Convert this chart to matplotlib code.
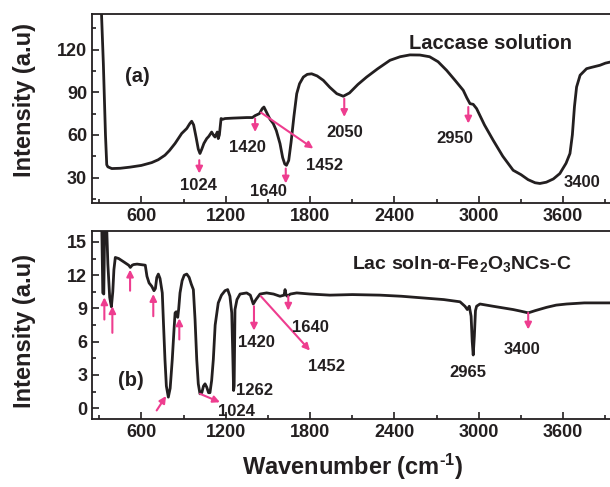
import numpy as np
import matplotlib
matplotlib.use("Agg")
import matplotlib.pyplot as plt
from matplotlib.ticker import MultipleLocator

plt.rcParams['font.family'] = ['Liberation Sans', 'DejaVu Sans']
plt.rcParams['font.weight'] = 'bold'
plt.rcParams['axes.labelweight'] = 'bold'
plt.rcParams['mathtext.fontset'] = 'custom'
plt.rcParams['mathtext.rm'] = 'Liberation Sans:bold'
plt.rcParams['mathtext.it'] = 'Liberation Sans:bold'
plt.rcParams['mathtext.bf'] = 'Liberation Sans:bold'

INK = '#231f20'
PINK = '#ee3d8f'

# (a) Laccase solution
wn_a = [315, 330, 345, 354, 362, 390, 450, 520, 600, 674, 720, 768, 800, 840,
        887, 923, 945, 958, 972, 990, 1005, 1017, 1030, 1045, 1065, 1080, 1100,
        1115, 1124, 1140, 1147, 1155, 1167, 1180, 1195, 1250, 1300, 1350, 1390,
        1408, 1440, 1460, 1472, 1490, 1515, 1538, 1560, 1586, 1605, 1620, 1632,
        1648, 1665, 1685, 1705, 1725, 1752, 1780, 1811, 1850, 1894, 1940, 1990,
        2036, 2080, 2140, 2202, 2280, 2368, 2440, 2510, 2581, 2650, 2710, 2771,
        2830, 2889, 2915, 2937, 2960, 2984, 3040, 3102, 3170, 3244, 3300, 3350,
        3400, 3434, 3480, 3530, 3576, 3620, 3648, 3665, 3680, 3695, 3720, 3766,
        3800, 3861, 3900, 3950]
int_a = [150, 110, 60, 39, 37.5, 36.3, 36.5, 37.3, 38.5, 40.5, 42.5, 45.7, 49,
         54, 61, 64.5, 68, 69.6, 67, 58, 50, 46.9, 50, 54, 57.4, 59, 62, 59.5,
         58.5, 62, 57.4, 60, 71.5, 71, 71.5, 71.8, 72, 72.2, 72.2, 73.5, 75,
         78.5, 79.6, 76, 71, 68, 63, 53.9, 44, 39.5, 38.6, 42, 55, 73, 89, 96,
         100.7, 102.6, 103, 101.5, 98.4, 93.5, 89, 87.2, 89.5, 95.5, 100.7,
         106.5, 112.5, 115, 116.3, 116.2, 115, 111.5, 105.4, 98.5, 91.4, 86, 82,
         81.5, 78.5, 67, 56.2, 45, 35.1, 32, 28.5, 26.3, 25.8, 26.7, 29, 32.8,
         40, 46.9, 60, 80, 93.7, 102, 106.6, 107.5, 109, 110.5, 111.6]

# (b) Lac soln-alpha-Fe2O3NCs-C
wn_b = [318, 326, 333, 340, 352, 362, 375, 387, 397, 405, 415, 439, 475, 510,
        522, 535, 546, 570, 628, 640, 655, 674, 690, 700, 710, 721, 733, 749,
        758, 768, 778, 792, 805, 812, 820, 832, 840, 848, 859, 866, 875, 890,
        905, 923, 940, 955, 970, 982, 994, 1005, 1017, 1030, 1042, 1053, 1065,
        1078, 1088, 1100, 1112, 1125, 1147, 1170, 1195, 1214, 1230, 1243, 1250,
        1256, 1260, 1266, 1280, 1302, 1349, 1375, 1396, 1415, 1444, 1491, 1540,
        1586, 1615, 1622, 1630, 1638, 1660, 1705, 1800, 1941, 2100, 2297, 2450,
        2600, 2750, 2866, 2901, 2918, 2932, 2945, 2953, 2960, 2968, 2976, 2984,
        3008, 3100, 3244, 3300, 3351, 3400, 3482, 3550, 3624, 3750, 3950]
int_b = [17, 10.4, 10.3, 17, 17, 13, 10, 9.15, 10.5, 12.5, 13.6, 13.5, 13.2,
         12.9, 12.7, 12.9, 12.96, 13.0, 12.9, 11.9, 11.3, 11.0, 10.6, 10.8,
         11.8, 12.1, 11.7, 10.4, 7.5, 4.4, 2, 1.0, 1.8, 3, 4.4, 7, 8.6, 8.7,
         8.2, 9, 10.4, 11.5, 12, 12.1, 11.8, 11.2, 10.7, 8, 4.4, 2.2, 1.3, 1.4,
         2, 2.2, 1.9, 1.4, 1.4, 2.5, 4.4, 7.5, 9.5, 10.2, 10.6, 10.7, 10.1, 8.6,
         5, 1.6, 2, 8.9, 9.8, 10.3, 10.4, 10.2, 9.4, 9.8, 10.3, 10.4, 10.3,
         10.1, 10.2, 10.7, 10.2, 10.1, 10.3, 10.4, 10.3, 10.2, 10.25, 10.2,
         10.1, 9.95, 9.8, 9.6, 9.2, 8.9, 9.2, 8.3, 6, 4.8, 6.5, 8.8, 9.2, 9.4,
         9.2, 8.9, 8.75, 8.6, 8.8, 9.1, 9.3, 9.4, 9.5, 9.5]

# peak labels: (text, x, y)
labels_a = [('1024', 1005, 24.6), ('1420', 1356, 50.8), ('1640', 1503, 19.9),
            ('1452', 1906, 38.6), ('2050', 2048, 62), ('2950', 2830, 57.4),
            ('3400', 3731, 26.2)]
# arrows: (tail x, tail y, head x, head y)
arrows_a = [(1012, 42.2, 1012, 32.8), (1409, 71.5, 1409, 62),
            (1627, 36.3, 1627, 25.8), (1451, 75.7, 1823, 50.4),
            (2043, 85.5, 2043, 72.6), (2925, 79.6, 2925, 68)]

labels_b = [('1024', 1278, -0.3), ('1262', 1408, 1.6), ('1420', 1420, 5.9),
            ('1640', 1799, 7.3), ('1452', 1918, 3.8), ('2965', 2925, 3.2),
            ('3400', 3304, 5.3)]
arrows_b = [(337, 8.0, 337, 10.0), (394, 6.8, 394, 9.2), (520, 10.6, 520, 12.5),
            (685, 8.3, 685, 10.3), (709, -0.2, 776, 1.1), (870, 6.2, 870, 8.1),
            (1017, 1.3, 1159, 0.54), (1401, 9.2, 1401, 7.0),
            (1645, 10.1, 1645, 8.8), (1450, 10.1, 1799, 5.2),
            (3351, 8.6, 3351, 7.1)]

fig = plt.figure(figsize=(6.1, 4.87), dpi=100)
ax1 = fig.add_axes([0.151, 0.583, 0.853, 0.388])
ax2 = fig.add_axes([0.151, 0.139, 0.853, 0.387])


def style(ax, ylim, major, minor, ypos):
    ax.set_xlim(250, 3950)
    ax.set_ylim(*ylim)
    ax.xaxis.set_major_locator(MultipleLocator(600))
    ax.xaxis.set_minor_locator(MultipleLocator(300))
    ax.yaxis.set_major_locator(MultipleLocator(major))
    ax.yaxis.set_minor_locator(MultipleLocator(minor))
    ax.tick_params(which='both', direction='in', top=False, right=False,
                   width=1.2, color=INK, labelsize=13, labelcolor=INK)
    ax.tick_params(which='major', length=5)
    ax.tick_params(which='minor', length=3)
    for s in ax.spines.values():
        s.set_linewidth(1.3)
        s.set_color(INK)
    ax.set_ylabel('Intensity (a.u)', fontsize=17, fontweight='bold', color=INK)
    ax.yaxis.set_label_coords(-0.108, ypos)


def draw_arrows(ax, arrows):
    for x0, y0, x1, y1 in arrows:
        ax.annotate('', xy=(x1, y1), xytext=(x0, y0),
                    arrowprops=dict(arrowstyle='-|>', color=PINK, lw=1.5,
                                    mutation_scale=10, shrinkA=0, shrinkB=0))


ax1.plot(wn_a, int_a, color=INK, lw=2)
style(ax1, (12, 145), 30, 15, 0.545)
draw_arrows(ax1, arrows_a)
for t, x, y in labels_a:
    ax1.text(x, y, t, ha='center', va='center', fontsize=12, color=INK)
ax1.text(3083, 124.2, 'Laccase solution', ha='center', va='center',
         fontsize=14.5, color=INK)
ax1.text(572, 101.2, '(a)', ha='center', va='center', fontsize=14.5, color=INK)

ax2.plot(wn_b, int_b, color=INK, lw=2)
style(ax2, (-1, 16), 3, 1.5, 0.466)
draw_arrows(ax2, arrows_b)
for t, x, y in labels_b:
    ax2.text(x, y, t, ha='center', va='center', fontsize=12, color=INK)
ax2.text(2878, 13.0, r'Lac soln-$\alpha$-Fe$_2$O$_3$NCs-C', ha='center',
         va='center', fontsize=14, color=INK)
ax2.text(527, 2.5, '(b)', ha='center', va='center', fontsize=14.5, color=INK)
ax2.set_xlabel(r'Wavenumber (cm$^{\text{-}1}$)', fontsize=17,
               fontweight='bold', color=INK)
ax2.xaxis.set_label_coords(0.5, -0.17)

fig.savefig('out.png', dpi=100)
